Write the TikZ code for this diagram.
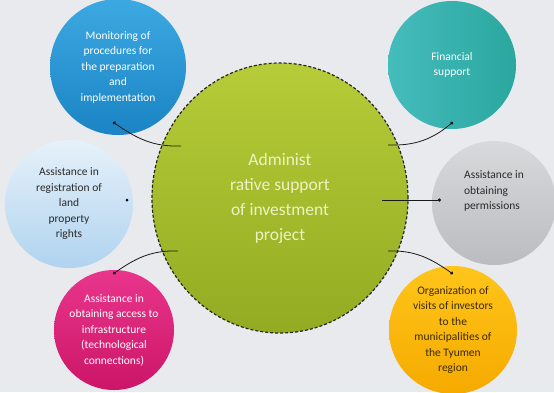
\documentclass[tikz,border=0pt]{standalone}
\usepackage{fontspec}
\setmainfont{Carlito}
\usepackage{tikz}
\usetikzlibrary{arrows,arrows.meta,positioning,calc,shapes.geometric}
\definecolor{bgcol}{HTML}{E8EAEE}
\definecolor{hubtop}{HTML}{B6CC38}
\definecolor{hubbot}{HTML}{93AB22}
\definecolor{hubtext}{HTML}{EEF2C2}
\definecolor{bluetop}{HTML}{3DA9E2}
\definecolor{bluebot}{HTML}{1A84C4}
\definecolor{tealtop}{HTML}{45BCBC}
\definecolor{tealbot}{HTML}{2AA79F}
\definecolor{skytop}{HTML}{E6F1FA}
\definecolor{skybot}{HTML}{B0D3EF}
\definecolor{greytop}{HTML}{D8D9DB}
\definecolor{greybot}{HTML}{BBBCBF}
\definecolor{pinktop}{HTML}{E8368C}
\definecolor{pinkbot}{HTML}{CC1568}
\definecolor{goldtop}{HTML}{FFC51A}
\definecolor{goldbot}{HTML}{F6AA00}
\definecolor{darktext}{HTML}{2A2A2A}
\definecolor{browntext}{HTML}{3A2A00}
\tikzstyle{bubble} = [circle,inner sep=0pt,align=center,font=\fontsize{11.5}{15.5}\selectfont]
\tikzstyle{hub} = [ellipse,inner sep=0pt,align=center,draw=black!85,line width=1.2pt,dash pattern=on 3pt off 2pt,
                   top color=hubtop,bottom color=hubbot,text=hubtext,font=\fontsize{17.5}{25}\selectfont]
\tikzstyle{link} = [line width=0.8pt,black!90,arrows={-Circle[length=3.2pt]}]
\tikzstyle{dot} = [circle,fill=black,inner sep=0pt,minimum size=3pt]

\begin{document}
\begin{tikzpicture}[x=1pt,y=-1pt]
                  \fill[bgcol] (0,0) rectangle (554,392);
                  \useasboundingbox (0,0) rectangle (554,392);
                  \clip (0,0) rectangle (554,392);

                  \node (mon)[bubble,minimum size=136pt,top color=bluetop,bottom color=bluebot,text=white]
                        at (118,67) {Monitoring of\\procedures for\\the preparation\\and\\implementation};
                  \node (fin)[bubble,minimum size=128pt,left color=tealtop,right color=tealbot,text=white]
                        at (452,65) {Financial\\support};
                  \node (reg)[bubble,minimum size=128pt,top color=skytop,bottom color=skybot,text=darktext]
                        at (69,204) {Assistance in\\registration of\\land\\property\\rights};
                  \node (perm)[bubble,minimum size=124pt,top color=greytop,bottom color=greybot,
                        label={[text=darktext,align=left,font=\fontsize{11.5}{15.5}\selectfont,yshift=12pt]center:{Assistance in\\obtaining\\permissions}}]
                        at (494,203) {};
                  \node (infra)[bubble,minimum size=120pt,top color=pinktop,bottom color=pinkbot,text=white]
                        at (114,330) {Assistance in\\obtaining access to\\infrastructure\\(technological\\connections)};
                  \node (visit)[bubble,minimum size=128pt,top color=goldtop,bottom color=goldbot,text=browntext]
                        at (453,330) {Organization of\\visits of investors\\to the\\municipalities of\\the Tyumen\\region};

                  \node (center)[hub,minimum width=256pt,minimum height=270pt]
                        at (280,198) {Administ\\rative support\\of investment\\project};

                  % ends of the links
                  \coordinate (h1) at (181,146);
                  \coordinate (h2) at (388,145);
                  \coordinate (h3) at (382,200);
                  \coordinate (h4) at (178,251);
                  \coordinate (h5) at (388,251);
                  \coordinate (m1) at (113,122);
                  \coordinate (f1) at (453,122);
                  \coordinate (p1) at (441,200);
                  \coordinate (i1) at (113,274);
                  \coordinate (v1) at (453,274);
                  \node (rdot)[dot] at (127,200) {};

                  \draw[link] (h1) to[out=182,in=-35] (m1);
                  \draw[link] (h2) to[out=-2,in=-140] (f1);
                  \draw[link] (h3) -- (p1);
                  \draw[link] (h4) to[out=178,in=35] (i1);
                  \draw[link] (h5) to[out=2,in=145] (v1);
            \end{tikzpicture}
\end{document}
